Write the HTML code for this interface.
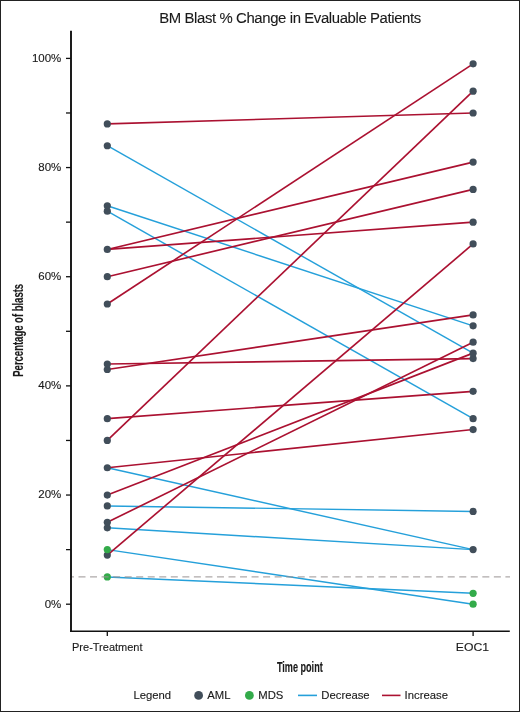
<!DOCTYPE html>
<html><head><meta charset="utf-8"><style>
html,body{margin:0;padding:0;background:#fff;}
body{width:520px;height:712px;overflow:hidden;position:relative;}
svg{position:absolute;left:0;top:0;will-change:transform;}
text{font-family:"Liberation Sans",sans-serif;fill:#1a1a1a;stroke:#1a1a1a;stroke-width:0.12px;}
.t{stroke-width:0.1px;}
.b{stroke-width:0.15px;}
</style></head><body>
<svg width="520" height="712" viewBox="0 0 520 712">
<rect x="0.5" y="0.5" width="519" height="711" fill="#fff" stroke="#222" stroke-width="1"/>
<text x="290.2" y="22.8" text-anchor="middle" font-size="14.9" textLength="262" lengthAdjust="spacing" class="t">BM Blast % Change in Evaluable Patients</text>
<g stroke-width="1.65" fill="none">
<line x1="107.3" y1="145.73" x2="473.1" y2="353.13" stroke="#25a0da" stroke-width="1.45"/>
<line x1="107.3" y1="205.77" x2="473.1" y2="325.84" stroke="#25a0da" stroke-width="1.45"/>
<line x1="107.3" y1="211.22" x2="473.1" y2="418.63" stroke="#25a0da" stroke-width="1.45"/>
<line x1="107.3" y1="467.75" x2="473.1" y2="549.62" stroke="#25a0da" stroke-width="1.45"/>
<line x1="107.3" y1="505.96" x2="473.1" y2="511.41" stroke="#25a0da" stroke-width="1.45"/>
<line x1="107.3" y1="527.79" x2="473.1" y2="549.62" stroke="#25a0da" stroke-width="1.45"/>
<line x1="107.3" y1="549.62" x2="473.1" y2="604.20" stroke="#25a0da" stroke-width="1.45"/>
<line x1="107.3" y1="576.91" x2="473.1" y2="593.28" stroke="#25a0da" stroke-width="1.45"/>
<line x1="107.3" y1="123.90" x2="473.1" y2="112.98" stroke="#ab1131"/>
<line x1="107.3" y1="249.43" x2="473.1" y2="162.10" stroke="#ab1131"/>
<line x1="107.3" y1="249.43" x2="473.1" y2="222.14" stroke="#ab1131"/>
<line x1="107.3" y1="276.72" x2="473.1" y2="189.39" stroke="#ab1131"/>
<line x1="107.3" y1="304.01" x2="473.1" y2="63.86" stroke="#ab1131"/>
<line x1="107.3" y1="364.05" x2="473.1" y2="358.59" stroke="#ab1131"/>
<line x1="107.3" y1="369.51" x2="473.1" y2="314.93" stroke="#ab1131"/>
<line x1="107.3" y1="418.63" x2="473.1" y2="391.34" stroke="#ab1131"/>
<line x1="107.3" y1="440.46" x2="473.1" y2="91.15" stroke="#ab1131"/>
<line x1="107.3" y1="467.75" x2="473.1" y2="429.54" stroke="#ab1131"/>
<line x1="107.3" y1="495.04" x2="473.1" y2="353.13" stroke="#ab1131"/>
<line x1="107.3" y1="522.33" x2="473.1" y2="342.22" stroke="#ab1131"/>
<line x1="107.3" y1="555.08" x2="473.1" y2="243.97" stroke="#ab1131"/>
</g>
<g>
<circle cx="107.3" cy="576.91" r="3.6" fill="#33ab4a"/>
<circle cx="107.3" cy="555.08" r="3.6" fill="#414e5a"/>
<circle cx="107.3" cy="549.62" r="3.6" fill="#33ab4a"/>
<circle cx="107.3" cy="527.79" r="3.6" fill="#414e5a"/>
<circle cx="107.3" cy="522.33" r="3.6" fill="#414e5a"/>
<circle cx="107.3" cy="505.96" r="3.6" fill="#414e5a"/>
<circle cx="107.3" cy="495.04" r="3.6" fill="#414e5a"/>
<circle cx="107.3" cy="467.75" r="3.6" fill="#414e5a"/>
<circle cx="107.3" cy="440.46" r="3.6" fill="#414e5a"/>
<circle cx="107.3" cy="418.63" r="3.6" fill="#414e5a"/>
<circle cx="107.3" cy="369.51" r="3.6" fill="#414e5a"/>
<circle cx="107.3" cy="364.05" r="3.6" fill="#414e5a"/>
<circle cx="107.3" cy="304.01" r="3.6" fill="#414e5a"/>
<circle cx="107.3" cy="276.72" r="3.6" fill="#414e5a"/>
<circle cx="107.3" cy="249.43" r="3.6" fill="#414e5a"/>
<circle cx="107.3" cy="211.22" r="3.6" fill="#414e5a"/>
<circle cx="107.3" cy="205.77" r="3.6" fill="#414e5a"/>
<circle cx="107.3" cy="145.73" r="3.6" fill="#414e5a"/>
<circle cx="107.3" cy="123.90" r="3.6" fill="#414e5a"/>
<circle cx="473.1" cy="604.20" r="3.6" fill="#33ab4a"/>
<circle cx="473.1" cy="593.28" r="3.6" fill="#33ab4a"/>
<circle cx="473.1" cy="549.62" r="3.6" fill="#414e5a"/>
<circle cx="473.1" cy="511.41" r="3.6" fill="#414e5a"/>
<circle cx="473.1" cy="429.54" r="3.6" fill="#414e5a"/>
<circle cx="473.1" cy="418.63" r="3.6" fill="#414e5a"/>
<circle cx="473.1" cy="391.34" r="3.6" fill="#414e5a"/>
<circle cx="473.1" cy="358.59" r="3.6" fill="#414e5a"/>
<circle cx="473.1" cy="353.13" r="3.6" fill="#414e5a"/>
<circle cx="473.1" cy="342.22" r="3.6" fill="#414e5a"/>
<circle cx="473.1" cy="325.84" r="3.6" fill="#414e5a"/>
<circle cx="473.1" cy="314.93" r="3.6" fill="#414e5a"/>
<circle cx="473.1" cy="243.97" r="3.6" fill="#414e5a"/>
<circle cx="473.1" cy="222.14" r="3.6" fill="#414e5a"/>
<circle cx="473.1" cy="189.39" r="3.6" fill="#414e5a"/>
<circle cx="473.1" cy="162.10" r="3.6" fill="#414e5a"/>
<circle cx="473.1" cy="112.98" r="3.6" fill="#414e5a"/>
<circle cx="473.1" cy="91.15" r="3.6" fill="#414e5a"/>
<circle cx="473.1" cy="63.86" r="3.6" fill="#414e5a"/>
</g>
<line x1="72" y1="576.91" x2="510" y2="576.91" stroke="#9a9494" stroke-opacity="0.8" stroke-width="1.2" stroke-dasharray="7 4.538" stroke-dashoffset="5.04"/>
<g stroke="#111" stroke-width="1.3">
<line x1="66" y1="604.20" x2="71" y2="604.20"/>
<line x1="66" y1="549.62" x2="71" y2="549.62"/>
<line x1="66" y1="495.04" x2="71" y2="495.04"/>
<line x1="66" y1="440.46" x2="71" y2="440.46"/>
<line x1="66" y1="385.88" x2="71" y2="385.88"/>
<line x1="66" y1="331.30" x2="71" y2="331.30"/>
<line x1="66" y1="276.72" x2="71" y2="276.72"/>
<line x1="66" y1="222.14" x2="71" y2="222.14"/>
<line x1="66" y1="167.56" x2="71" y2="167.56"/>
<line x1="66" y1="112.98" x2="71" y2="112.98"/>
<line x1="66" y1="58.40" x2="71" y2="58.40"/>
<line x1="107.3" y1="632" x2="107.3" y2="636"/>
<line x1="473.1" y1="632" x2="473.1" y2="636"/>
</g>
<path d="M71 30.8 V632.1" fill="none" stroke="#111" stroke-width="1.9"/>
<path d="M70.05 631.25 H509.8" fill="none" stroke="#111" stroke-width="1.7"/>
<g font-size="11">
<text transform="translate(61.3 607.50) scale(1.045 1)" text-anchor="end">0%</text>
<text transform="translate(61.3 498.34) scale(1.045 1)" text-anchor="end">20%</text>
<text transform="translate(61.3 389.18) scale(1.045 1)" text-anchor="end">40%</text>
<text transform="translate(61.3 280.02) scale(1.045 1)" text-anchor="end">60%</text>
<text transform="translate(61.3 170.86) scale(1.045 1)" text-anchor="end">80%</text>
<text transform="translate(61.3 61.70) scale(1.045 1)" text-anchor="end">100%</text>
<text x="107.3" y="650.9" text-anchor="middle">Pre-Treatment</text>
<text transform="translate(472.4 650.9) scale(1.11 1)" text-anchor="middle">EOC1</text>
</g>
<text transform="translate(299.8 671.6) scale(0.628 1)" text-anchor="middle" font-size="14.5" font-weight="bold" class="b">Time point</text>
<text transform="translate(22.75 330.3) rotate(-90) scale(0.633 1)" text-anchor="middle" font-size="15" font-weight="bold" class="b">Percentage of blasts</text>
<g font-size="11.3">
<text x="133.4" y="698.9">Legend</text>
<circle cx="198.6" cy="695.4" r="4.4" fill="#414e5a"/>
<text x="207.2" y="698.9">AML</text>
<circle cx="249.4" cy="695.4" r="4.4" fill="#33ab4a"/>
<text x="258.3" y="698.9">MDS</text>
<line x1="298" y1="695.4" x2="317" y2="695.4" stroke="#25a0da" stroke-width="1.6"/>
<text x="321.3" y="698.9">Decrease</text>
<line x1="382" y1="695.4" x2="400.5" y2="695.4" stroke="#ab1131" stroke-width="1.6"/>
<text x="404.6" y="698.9">Increase</text>
</g>
</svg>
</body></html>
